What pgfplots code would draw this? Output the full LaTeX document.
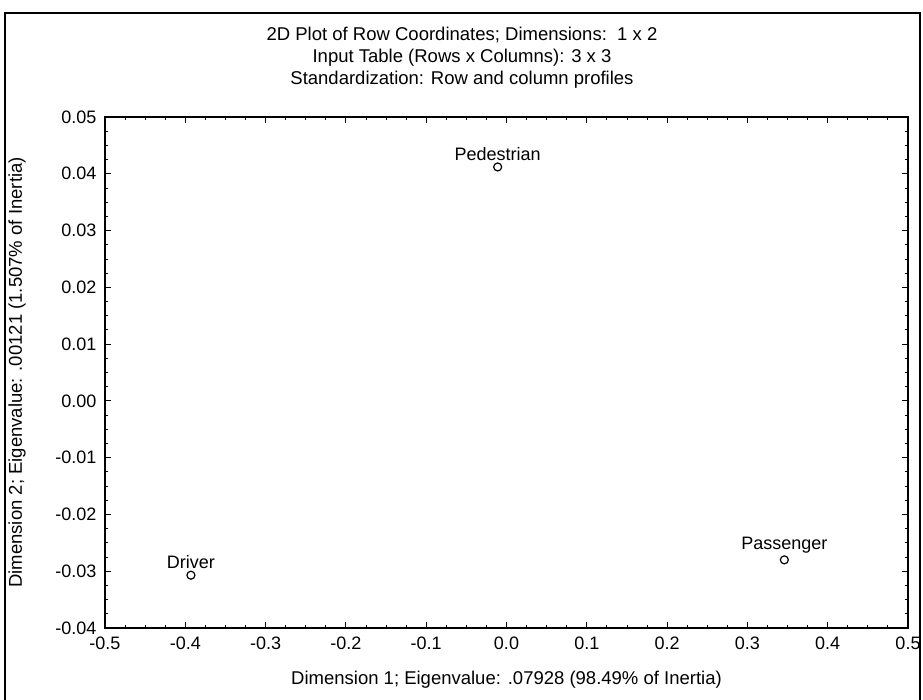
\documentclass[border=0pt]{standalone}
\usepackage{pgfplots}
\pgfplotsset{compat=1.18}
\usepackage{fontspec}
\setmainfont{Liberation Sans}
\begin{document}
\begin{tikzpicture}[x=1pt,y=1pt]
\useasboundingbox (-105,-71) rectangle (818,628);
\begin{axis}[
  at={(0,0)}, anchor=south west,
  scale only axis, width=803pt, height=511pt,
  xmin=-0.5, xmax=0.5, ymin=-0.04, ymax=0.05,
  xtick={-0.5,-0.4,...,0.5}, ytick={-0.04,-0.03,...,0.05},
  minor x tick num=3, minor y tick num=3,
  tick align=inside,
  major tick length=6pt, minor tick length=3pt,
  axis line style={line width=1.4pt},
  every tick/.style={black, line width=0.9pt},
  /pgf/number format/assume math mode=true,
  xticklabel style={/pgf/number format/fixed, /pgf/number format/fixed zerofill, /pgf/number format/precision=1, font=\fontsize{18}{20}\selectfont, yshift=-5pt},
  yticklabel style={/pgf/number format/fixed, /pgf/number format/fixed zerofill, /pgf/number format/precision=2, font=\fontsize{18}{20}\selectfont, xshift=-5pt},
  scaled ticks=false,
  clip=false,
]
\addplot[only marks, mark=o, mark size=4pt, mark options={line width=1.2pt, black},
  point meta=explicit symbolic,
  nodes near coords, nodes near coords align={above},
  every node near coord/.style={font=\fontsize{18}{20}\selectfont, black, inner sep=1pt, yshift=5pt}]
  table[meta=label] {
x y label
-0.393 -0.0307 Driver
0.346 -0.0280 Passenger
-0.011 0.0412 Pedestrian
};
\end{axis}
\node[font=\fontsize{18.5}{20}\selectfont] at (357,593) {2D Plot of Row Coordinates; Dimensions:\ \ 1 x\ 2};
\node[font=\fontsize{18.5}{20}\selectfont] at (357,570) {Input Table (Rows x Columns): 3 x 3};
\node[font=\fontsize{18.5}{20}\selectfont] at (357,548) {Standardization: Row and column profiles};
\node[font=\fontsize{18.5}{20}\selectfont] at (401.5,-52) {Dimension 1; Eigenvalue: .07928 (98.49\% of Inertia)};
\node[font=\fontsize{18.5}{20}\selectfont, rotate=90] at (-88,255.5) {Dimension 2; Eigenvalue: .00121 (1.507\% of Inertia)};
\draw[line width=2pt] (-100,-80) -- (-100,615) -- (815,615) -- (815,-80);
\end{tikzpicture}
\end{document}
